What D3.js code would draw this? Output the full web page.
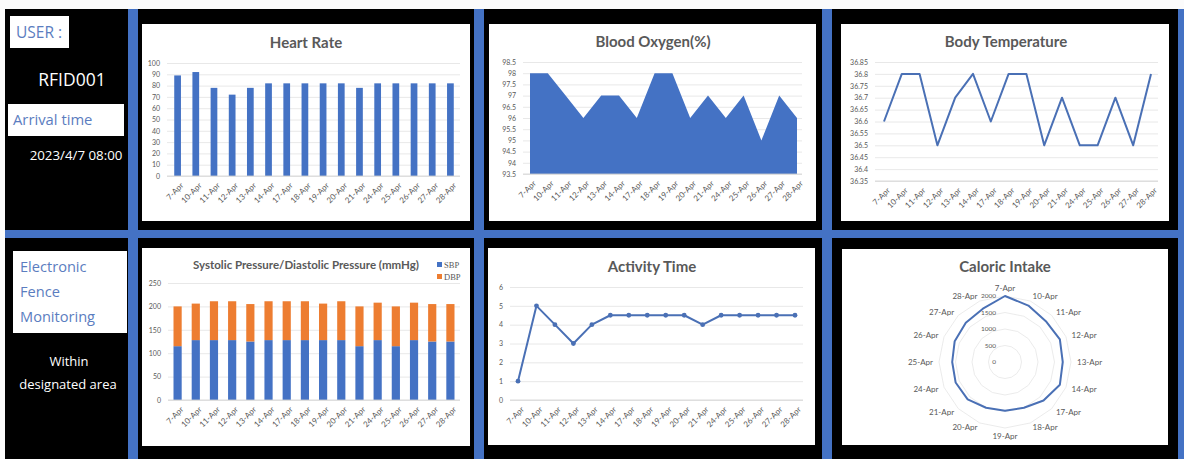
<!DOCTYPE html>
<html>
<head>
<meta charset="utf-8">
<script src="https://cdn.jsdelivr.net/npm/d3@7"></script>
<style>
  html, body { margin: 0; padding: 0; background: #fff; }
  svg { display: block; }
</style>
</head>
<body>
<svg id="board" width="1184" height="459"></svg>
<script>
// ---- data ----
const dates = ["7-Apr", "10-Apr", "11-Apr", "12-Apr", "13-Apr", "14-Apr", "17-Apr", "18-Apr",
               "19-Apr", "20-Apr", "21-Apr", "24-Apr", "25-Apr", "26-Apr", "27-Apr", "28-Apr"];
const heartRate   = [89, 92, 78, 72, 78, 82, 82, 82, 82, 82, 78, 82, 82, 82, 82, 82];
const bloodOxygen = [98, 98, 97, 96, 97, 97, 96, 98, 98, 96, 97, 96, 97, 95, 97, 96];
const bodyTemp    = [36.6, 36.8, 36.8, 36.5, 36.7, 36.8, 36.6, 36.8, 36.8, 36.5, 36.7, 36.5, 36.5, 36.7, 36.5, 36.8];
const sbp         = [115, 128, 128, 128, 125, 128, 128, 128, 128, 128, 115, 128, 115, 128, 125, 125];
const dbp         = [85, 78, 83, 83, 80, 83, 83, 83, 78, 83, 85, 80, 85, 80, 80, 80];
const activity    = [1, 5, 4, 3, 4, 4.5, 4.5, 4.5, 4.5, 4.5, 4, 4.5, 4.5, 4.5, 4.5, 4.5];
const calories    = [2000, 1850, 1750, 1800, 1750, 1800, 1650, 1500, 1480, 1500, 1600, 1620, 1600, 1650, 1680, 1750];

const hrTicks   = [0, 10, 20, 30, 40, 50, 60, 70, 80, 90, 100];
const oxTicks   = [93.5, 94, 94.5, 95, 95.5, 96, 96.5, 97, 97.5, 98, 98.5];
const tempTicks = [36.35, 36.4, 36.45, 36.5, 36.55, 36.6, 36.65, 36.7, 36.75, 36.8, 36.85];
const bpTicks   = [0, 50, 100, 150, 200, 250];
const actTicks  = [0, 1, 2, 3, 4, 5, 6];
const calTicks  = [0, 500, 1000, 1500, 2000];
const bpSeries  = ["SBP", "DBP"];

// ---- styling ----
const BLUE = "#4472C4", ORANGE = "#ED7D31", TEXT = "#595959", GRID = "#e2e2e2";
const LINE = "#4a70b5";
const CHART_FONT = "Lato, 'Open Sans', sans-serif";
const PANEL_FONT = "'Open Sans', 'Noto Sans', sans-serif";

const svg = d3.select("#board");

// ---- dashboard frame ----
svg.append("rect").attr("x", 0).attr("y", 0).attr("width", 1184).attr("height", 459).attr("fill", "#fbfbfb");
svg.append("rect").attr("x", 5).attr("y", 9).attr("width", 1179).attr("height", 450).attr("fill", "#000");
const dividers = [
  [128, 9, 10, 450], [474, 9, 10, 450], [822, 9, 10, 450], [1178, 9, 6, 450],
  [5, 230, 1179, 8]
];
svg.selectAll("rect.divider").data(dividers).join("rect").attr("class", "divider")
  .attr("x", d => d[0]).attr("y", d => d[1]).attr("width", d => d[2]).attr("height", d => d[3])
  .attr("fill", BLUE);

function card(x, y, w, h) {
  svg.append("rect").attr("x", x).attr("y", y).attr("width", w).attr("height", h).attr("fill", "#fff");
  return svg.append("g");
}

function title(g, text, x, y, size) {
  g.append("text").attr("x", x).attr("y", y).attr("text-anchor", "middle")
    .attr("fill", TEXT).style("font", `bold ${size}px ${CHART_FONT}`).text(text);
}

function yAxis(g, scale, ticks, x0, x1, fmt) {
  g.append("g").attr("transform", `translate(${x0},0)`)
    .call(d3.axisLeft(scale).tickValues(ticks).tickSize(-(x1 - x0)).tickPadding(7).tickFormat(fmt))
    .call(a => a.select(".domain").remove())
    .call(a => a.selectAll(".tick line").attr("stroke", GRID).attr("stroke-width", 0.8))
    .call(a => a.selectAll(".tick text").attr("fill", TEXT).style("font", `7px ${CHART_FONT}`));
}

function xAxis(g, scale, y, x0, x1) {
  const ax = g.append("g").attr("transform", `translate(0,${y})`)
    .call(d3.axisBottom(scale).tickSize(0))
    .call(a => a.select(".domain").remove());
  ax.selectAll(".tick text")
    .attr("x", 0).attr("y", 0).attr("dy", "0.35em")
    .attr("transform", "translate(4,8) rotate(-45)")
    .attr("text-anchor", "end")
    .attr("fill", TEXT).style("font", `8px ${CHART_FONT}`);
  g.append("line").attr("x1", x0).attr("x2", x1).attr("y1", y).attr("y2", y)
    .attr("stroke", "#d0d0d0").attr("stroke-width", 0.8);
}

// ---- left info column ----
const info = svg.append("g");
function infoBox(x, y, w, h) {
  info.append("rect").attr("x", x).attr("y", y).attr("width", w).attr("height", h).attr("fill", "#fff");
}
function infoText(text, x, y, size, color, anchor) {
  info.append("text").attr("x", x).attr("y", y).attr("text-anchor", anchor || "start")
    .attr("fill", color).style("font", `${size}px ${PANEL_FONT}`).text(text);
}
infoBox(10, 16, 59, 32);
infoText("USER :", 16, 38, 15.5, "#5b7dc0");
infoText("RFID001", 72, 86, 17.5, "#fff", "middle");
infoBox(8, 104, 116, 32);
infoText("Arrival time", 13, 125, 14.8, "#5b7dc0");
infoText("2023/4/7 08:00", 76, 160, 13.3, "#fff", "middle");
infoBox(13, 251, 114, 82);
infoText("Electronic", 20, 272, 14.6, "#5b7dc0");
infoText("Fence", 20, 297, 14.6, "#5b7dc0");
infoText("Monitoring", 20, 322, 14.6, "#5b7dc0");
infoText("Within", 69, 366, 13, "#fff", "middle");
infoText("designated area", 68, 389, 13, "#fff", "middle");

// ---- Heart Rate (column chart) ----
{
  const g = card(142, 24, 328, 197);
  title(g, "Heart Rate", 306, 48, 15);
  const x = d3.scaleBand().domain(dates).range([168.5, 459.5]).paddingInner(0.63).paddingOuter(0.315);
  const y = d3.scaleLinear().domain([0, 100]).range([176, 63]);
  yAxis(g, y, hrTicks, 167, 460, d3.format("d"));
  g.selectAll("rect.hr").data(heartRate).join("rect").attr("class", "hr")
    .attr("x", (d, i) => x(dates[i])).attr("width", x.bandwidth())
    .attr("y", d => y(d)).attr("height", d => y(0) - y(d)).attr("fill", BLUE);
  const xc = d3.scalePoint().domain(dates).range([x(dates[0]) + x.bandwidth() / 2, x(dates[15]) + x.bandwidth() / 2]);
  xAxis(g, xc, 176, 167, 460);
}

// ---- Blood Oxygen (area chart) ----
{
  const g = card(489, 24, 327, 197);
  title(g, "Blood Oxygen(%)", 653, 47, 15);
  const x = d3.scalePoint().domain(dates).range([530, 797]);
  const y = d3.scaleLinear().domain([93.5, 98.5]).range([174, 62]);
  yAxis(g, y, oxTicks, 523, 802, d => String(d));
  const area = d3.area().x((d, i) => x(dates[i])).y0(y(93.5)).y1(d => y(d));
  g.append("path").datum(bloodOxygen).attr("d", area).attr("fill", BLUE);
  xAxis(g, x, 174, 523, 802);
}

// ---- Body Temperature (line chart) ----
{
  const g = card(841, 24, 328, 197);
  title(g, "Body Temperature", 1006, 47, 15);
  const x = d3.scalePoint().domain(dates).range([884, 1151]);
  const y = d3.scaleLinear().domain([36.35, 36.85]).range([181, 62]);
  yAxis(g, y, tempTicks, 875, 1158, d => String(+d.toFixed(2)));
  const line = d3.line().x((d, i) => x(dates[i])).y(d => y(d));
  g.append("path").datum(bodyTemp).attr("d", line).attr("fill", "none")
    .attr("stroke", LINE).attr("stroke-width", 2).attr("stroke-linejoin", "round");
  xAxis(g, x, 181, 875, 1158);
}

// ---- Systolic / Diastolic (stacked columns) ----
{
  const g = card(142, 248, 328, 198);
  title(g, "Systolic Pressure/Diastolic Pressure (mmHg)", 306, 269, 11.5);
  const x = d3.scaleBand().domain(dates).range([168.5, 459.5]).paddingInner(0.55).paddingOuter(0.275);
  const y = d3.scaleLinear().domain([0, 250]).range([400, 283]);
  yAxis(g, y, bpTicks, 168, 460, d3.format("d"));
  const rows = dates.map((d, i) => ({ date: d, SBP: sbp[i], DBP: dbp[i] }));
  const stack = d3.stack().keys(bpSeries)(rows);
  const color = d3.scaleOrdinal().domain(bpSeries).range([BLUE, ORANGE]);
  g.selectAll("g.layer").data(stack).join("g").attr("class", "layer").attr("fill", s => color(s.key))
    .selectAll("rect").data(s => s).join("rect")
    .attr("x", d => x(d.data.date)).attr("width", x.bandwidth())
    .attr("y", d => y(d[1])).attr("height", d => y(d[0]) - y(d[1]));
  const xc = d3.scalePoint().domain(dates).range([x(dates[0]) + x.bandwidth() / 2, x(dates[15]) + x.bandwidth() / 2]);
  xAxis(g, xc, 400, 168, 460);
  // legend
  const lg = g.selectAll("g.legend").data(bpSeries).join("g").attr("class", "legend")
    .attr("transform", (d, i) => `translate(437,${262 + i * 12})`);
  lg.append("rect").attr("width", 5).attr("height", 5).attr("fill", d => color(d));
  lg.append("text").attr("x", 7).attr("y", 5.5).attr("fill", TEXT)
    .style("font", "8.5px 'Liberation Serif', 'DejaVu Serif', serif").text(d => d);
}

// ---- Activity Time (line with markers) ----
{
  const g = card(488, 248, 327, 197);
  title(g, "Activity Time", 652, 272, 15);
  const x = d3.scalePoint().domain(dates).range([518, 795]);
  const y = d3.scaleLinear().domain([0, 6]).range([400, 287]);
  yAxis(g, y, actTicks, 510, 803, d3.format("d"));
  const line = d3.line().x((d, i) => x(dates[i])).y(d => y(d));
  g.append("path").datum(activity).attr("d", line).attr("fill", "none")
    .attr("stroke", LINE).attr("stroke-width", 2).attr("stroke-linejoin", "round");
  g.selectAll("circle.pt").data(activity).join("circle").attr("class", "pt")
    .attr("cx", (d, i) => x(dates[i])).attr("cy", d => y(d)).attr("r", 2.4).attr("fill", LINE);
  xAxis(g, x, 400, 510, 803);
}

// ---- Caloric Intake (radar) ----
{
  const g = card(842, 249, 326, 196);
  title(g, "Caloric Intake", 1005, 272, 15);
  const cx = 1005, cy = 362;
  const r = d3.scaleLinear().domain([0, 2000]).range([0, 66]);
  const ang = d3.scalePoint().domain(dates).range([0, 2 * Math.PI * 15 / 16]);
  const rg = g.append("g").attr("transform", `translate(${cx},${cy})`);
  const radial = d3.lineRadial().curve(d3.curveLinearClosed);
  rg.selectAll("path.ring").data(calTicks.slice(1)).join("path").attr("class", "ring")
    .attr("d", v => radial(dates.map(d => [ang(d), r(v)])))
    .attr("fill", "none").attr("stroke", "#e6e6e6").attr("stroke-width", 0.8);
  rg.selectAll("text.rt").data(calTicks).join("text").attr("class", "rt")
    .attr("x", -9).attr("y", v => -r(v)).attr("dy", "0.35em").attr("text-anchor", "end")
    .attr("fill", TEXT).style("font", `6.5px ${CHART_FONT}`).text(v => v);
  rg.append("path").attr("d", radial(calories.map((v, i) => [ang(dates[i]), r(v)])))
    .attr("fill", "none").attr("stroke", LINE).attr("stroke-width", 2).attr("stroke-linejoin", "round");
  rg.selectAll("text.cat").data(dates).join("text").attr("class", "cat")
    .attr("x", d => Math.sin(ang(d)) * 72)
    .attr("y", d => {
      const c = Math.cos(ang(d));
      return Math.abs(c) > 0.98 ? -c * 74 : -c * 71;
    })
    .attr("dy", "0.35em")
    .attr("text-anchor", d => {
      const s = Math.sin(ang(d));
      return Math.abs(s) < 0.2 ? "middle" : (s > 0 ? "start" : "end");
    })
    .attr("fill", TEXT).style("font", `8px ${CHART_FONT}`).text(d => d);
}
</script>
</body>
</html>
